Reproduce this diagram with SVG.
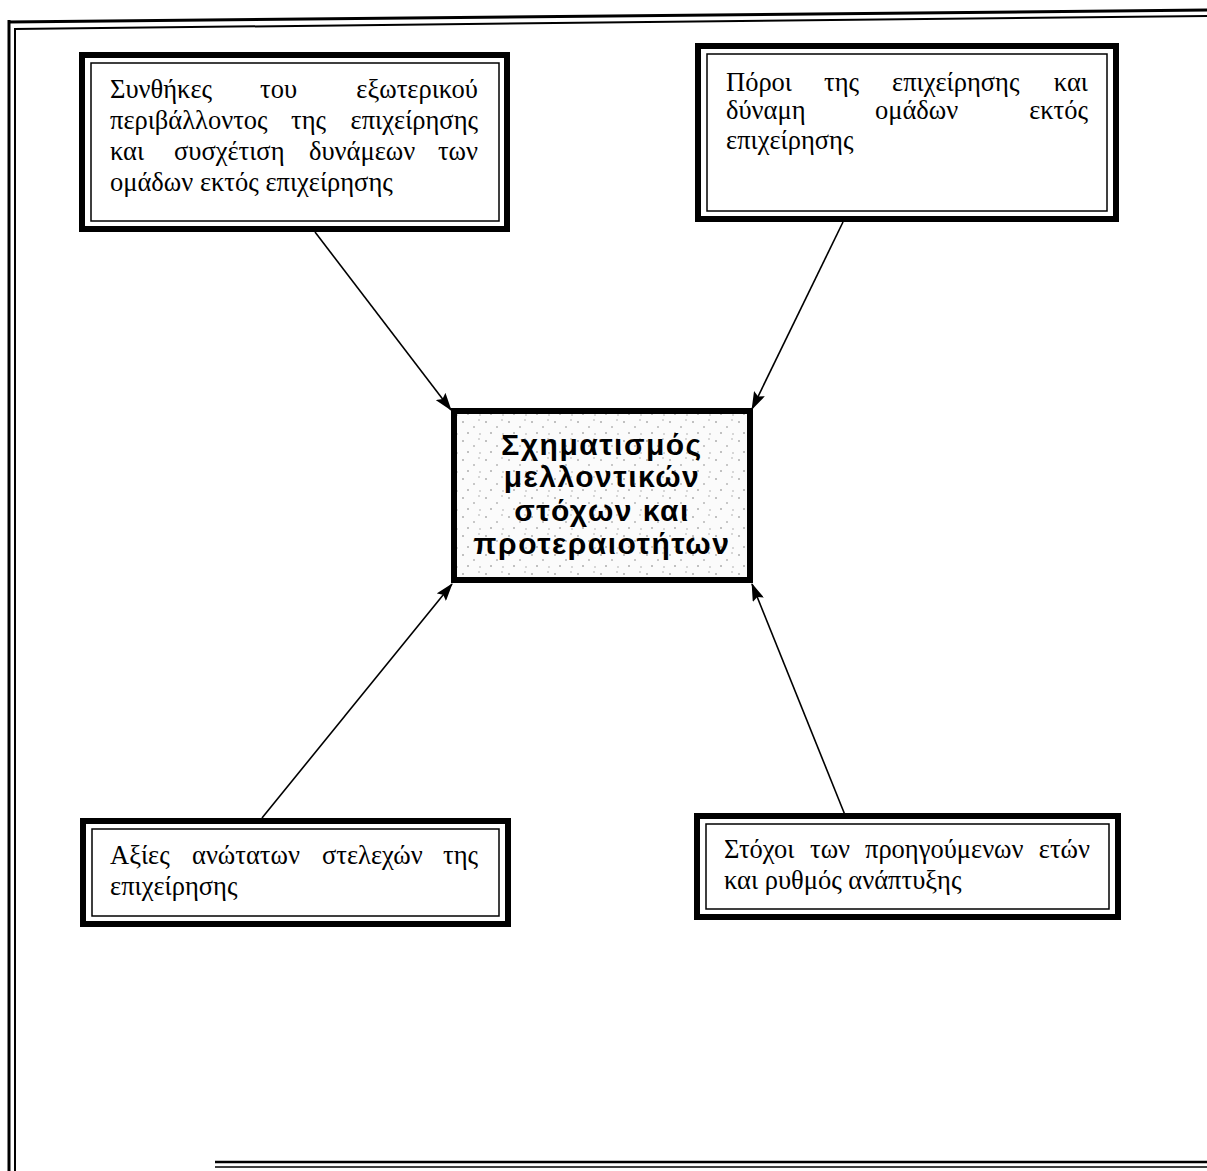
<svg xmlns="http://www.w3.org/2000/svg" width="1207" height="1171" viewBox="0 0 1207 1171">
<defs>
<style>
.frame{fill:none;stroke:#000}
.outer{fill:#fff;stroke:#000;stroke-width:6}
.inner{fill:none;stroke:#000;stroke-width:1.5}
.t{font-family:"Liberation Serif","Times New Roman",serif;font-size:26.5px;fill:#000}
.c{font-family:"Liberation Sans",Arial,sans-serif;font-size:30px;font-weight:bold;letter-spacing:1.5px;fill:#000;text-anchor:middle}
.e{text-anchor:end}
.conn{stroke:#000;stroke-width:1.6;fill:none;marker-end:url(#ah)}
</style>
<marker id="ah" viewBox="0 0 18 12" refX="17" refY="6" markerWidth="18" markerHeight="12" markerUnits="userSpaceOnUse" orient="auto">
<path d="M0,0 L18,6 L0,12 L3,6 z" fill="#000"/>
</marker>
<pattern id="stip" width="23" height="19" patternUnits="userSpaceOnUse">
<rect width="23" height="19" fill="#fbfbfb"/>
<circle cx="3" cy="4" r="0.8" fill="#777"/>
<circle cx="14" cy="9" r="0.8" fill="#888"/>
<circle cx="8" cy="15" r="0.8" fill="#777"/>
<circle cx="19" cy="2" r="0.7" fill="#999"/>
<circle cx="20" cy="16" r="0.7" fill="#999"/>
</pattern>
</defs>
<rect width="1207" height="1171" fill="#fff"/>
<g id="frame">
<line class="frame" x1="8" y1="22" x2="1207" y2="10" stroke-width="3"/>
<line class="frame" x1="14" y1="29" x2="1207" y2="16" stroke-width="2"/>
<line class="frame" x1="9" y1="20" x2="9" y2="1171" stroke-width="3"/>
<line class="frame" x1="15" y1="28" x2="15" y2="1171" stroke-width="2"/>
<line class="frame" x1="215" y1="1162" x2="1207" y2="1162" stroke-width="2.5"/>
<line class="frame" x1="215" y1="1167" x2="1207" y2="1167" stroke-width="1.5"/>
</g>
<g id="connectors">
<line class="conn" x1="315" y1="232" x2="451" y2="410"/>
<line class="conn" x1="843" y1="222" x2="752" y2="409"/>
<line class="conn" x1="262" y1="818" x2="452" y2="584"/>
<line class="conn" x1="845" y1="815" x2="752" y2="584"/>
</g>
<g id="node-external">
<rect class="outer" x="82" y="55" width="425" height="174"/>
<rect class="inner" x="91" y="63" width="408" height="158"/>
<text class="t" y="98"><tspan x="110">Συνθήκες</tspan><tspan x="260">του</tspan></text>
<text class="t e" x="478" y="98">εξωτερικού</text>
<text class="t" y="129"><tspan x="110">περιβάλλοντος</tspan><tspan x="291">της</tspan></text>
<text class="t e" x="478" y="129">επιχείρησης</text>
<text class="t" y="160"><tspan x="110">και</tspan><tspan x="174">συσχέτιση</tspan><tspan x="309">δυνάμεων</tspan></text>
<text class="t e" x="478" y="160">των</text>
<text class="t" x="110" y="191">ομάδων εκτός επιχείρησης</text>
</g>
<g id="node-resources">
<rect class="outer" x="698" y="46" width="418" height="173"/>
<rect class="inner" x="707" y="54" width="400" height="157"/>
<text class="t" y="91"><tspan x="726">Πόροι</tspan><tspan x="824">της</tspan><tspan x="892">επιχείρησης</tspan></text>
<text class="t e" x="1088" y="91">και</text>
<text class="t" y="119"><tspan x="726">δύναμη</tspan><tspan x="875">ομάδων</tspan></text>
<text class="t e" x="1088" y="119">εκτός</text>
<text class="t" x="726" y="149">επιχείρησης</text>
</g>
<g id="node-center">
<rect x="454" y="411" width="296" height="169" fill="url(#stip)" stroke="#000" stroke-width="6"/>
<text class="c" x="602" y="455">Σχηματισμός</text>
<text class="c" x="602" y="487">μελλοντικών</text>
<text class="c" x="602" y="521">στόχων και</text>
<text class="c" x="602" y="554">προτεραιοτήτων</text>
</g>
<g id="node-values">
<rect class="outer" x="83" y="821" width="425" height="103"/>
<rect class="inner" x="92" y="829" width="407" height="87"/>
<text class="t" y="864"><tspan x="110">Αξίες</tspan><tspan x="192">ανώτατων</tspan><tspan x="322">στελεχών</tspan></text>
<text class="t e" x="478" y="864">της</text>
<text class="t" x="110" y="895">επιχείρησης</text>
</g>
<g id="node-goals">
<rect class="outer" x="697" y="816" width="421" height="101"/>
<rect class="inner" x="706" y="824" width="403" height="85"/>
<text class="t" y="858"><tspan x="724">Στόχοι</tspan><tspan x="810">των</tspan><tspan x="865">προηγούμενων</tspan></text>
<text class="t e" x="1090" y="858">ετών</text>
<text class="t" x="724" y="889">και ρυθμός ανάπτυξης</text>
</g>
</svg>
